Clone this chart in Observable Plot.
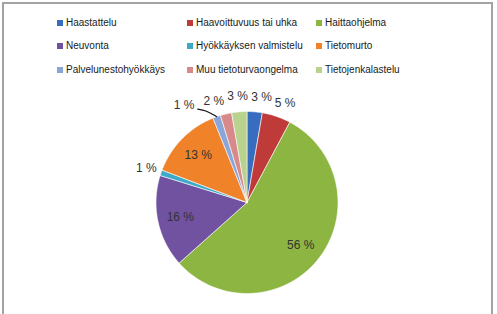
<!DOCTYPE html>
<html>
<head>
<meta charset="utf-8">
<script src="https://cdn.jsdelivr.net/npm/d3@7"></script>
<script src="https://cdn.jsdelivr.net/npm/@observablehq/plot@0.6"></script>
<style>
  html, body { margin: 0; padding: 0; background: #fff; }
  #wrap { position: relative; width: 497px; height: 314px; overflow: hidden; font-family: "Liberation Sans", Arial, sans-serif; }
  #frame { position: absolute; left: 2px; top: 2px; width: 487px; height: 330px; border: 2px solid #a3a3a3; }
  #legend { position: absolute; left: 0; top: 0; width: 497px; height: 90px; }
  .item { position: absolute; font-size: 10px; color: #1a1a1a; white-space: nowrap; line-height: 12px; }
  .sw { display: inline-block; width: 6px; height: 6px; margin-right: 3px; vertical-align: 0px; }
  #chart { position: absolute; left: 0; top: 0; }
</style>
</head>
<body>
<div id="wrap">
  <div id="frame"></div>
  <div id="legend"></div>
  <div id="chart"></div>
</div>
<script>
// Data
const categories = ["Haastattelu", "Haavoittuvuus tai uhka", "Haittaohjelma", "Neuvonta", "Hyökkäyksen valmistelu", "Tietomurto", "Palvelunestohyökkäys", "Muu tietoturvaongelma", "Tietojenkalastelu"];
const values = [2.7, 5.1, 55.6, 16.4, 1.0, 13.1, 1.4, 2.0, 2.7];
const colors = ["#386cbf", "#be3b39", "#8db542", "#7152a0", "#3eaac8", "#f0822a", "#8aa6d8", "#d88a8a", "#b9d28e"];

// Legend (HTML)
const legend = document.getElementById("legend");
const colX = [57, 187, 316];
const rowY = [17, 40, 64];
categories.forEach((c, i) => {
  const el = document.createElement("div");
  el.className = "item";
  el.style.left = colX[i % 3] + "px";
  el.style.top = rowY[Math.floor(i / 3)] + "px";
  el.innerHTML = `<span class="sw" style="background:${colors[i]}"></span>${c}`;
  legend.appendChild(el);
});

// Pie geometry in unit coordinates (clockwise from north)
const arcs = d3.pie().sort(null).value(d => d)(values);
const polys = [];
arcs.forEach((a, i) => {
  const name = categories[i];
  polys.push({name, x: 0, y: 0});
  const n = Math.max(4, Math.ceil((a.endAngle - a.startAngle) / (Math.PI / 180)));
  for (let k = 0; k <= n; k++) {
    const t = a.startAngle + (a.endAngle - a.startAngle) * k / n;
    polys.push({name, x: Math.sin(t), y: Math.cos(t)});
  }
  polys.push({name, x: 0, y: 0});
});

const deg = Math.PI / 180;
const labels = arcs.map((a, i) => {
  const mid = (a.startAngle + a.endAngle) / 2;
  const pct = values[i];
  return {name: categories[i], pct, mid, ang: mid, inside: pct > 10, text: Math.round(pct) + " %"};
});

// Spread the small outside labels near the top so they don't collide
const topGroup = labels.filter(d => !d.inside && d.name !== "Palvelunestohyökkäys" && d.name !== "Hyökkäyksen valmistelu");
// unwrap angles around north
topGroup.forEach(d => { d.u = d.ang > Math.PI ? d.ang - 2 * Math.PI : d.ang; });
topGroup.sort((a, b) => a.u - b.u);
const minSep = 13 * deg;
for (let it = 0; it < 200; it++) {
  for (let k = 0; k < topGroup.length - 1; k++) {
    const a = topGroup[k], b = topGroup[k + 1];
    const gap = b.u - a.u;
    if (gap < minSep) { const p = (minSep - gap) / 2; a.u -= p; b.u += p; }
  }
}
topGroup.forEach(d => { d.ang = d.u; });

labels.forEach(d => {
  let r = d.inside ? 0.75 : 1.17;
  let ang = d.ang;
  if (d.name === "Palvelunestohyökkäys") { r = 1.27; ang = d.mid - 13.5 * deg; }
  d.x = r * Math.sin(ang);
  d.y = r * Math.cos(ang);
});

const pal = labels.find(d => d.name === "Palvelunestohyökkäys");
const leader = [
  {x: pal.x + 0.15, y: pal.y - 0.04},
  {x: pal.x + 0.23, y: pal.y - 0.05},
  {x: 1.0 * Math.sin(pal.mid), y: 1.0 * Math.cos(pal.mid)}
];

const cx = 246.5, cy = 202, R = 91;
const chart = Plot.plot({
  width: 497,
  height: 314,
  margin: 0,
  x: {domain: [-1, 1], range: [cx - R, cx + R], axis: null},
  y: {domain: [-1, 1], range: [cy + R, cy - R], axis: null},
  color: {domain: categories, range: colors},
  style: {background: "transparent", overflow: "visible"},
  marks: [
    Plot.line(polys, {x: "x", y: "y", z: "name", fill: "name", stroke: "white", strokeWidth: 0.6, curve: "linear"}),
    Plot.line(leader, {x: "x", y: "y", stroke: "#111", strokeWidth: 1.2, curve: "basis"}),
    Plot.text(labels, {x: "x", y: "y", text: "text", fontSize: 12, fill: "#333", fontFamily: "Liberation Sans, Arial, sans-serif"})
  ]
});
document.getElementById("chart").appendChild(chart);
</script>
</body>
</html>
